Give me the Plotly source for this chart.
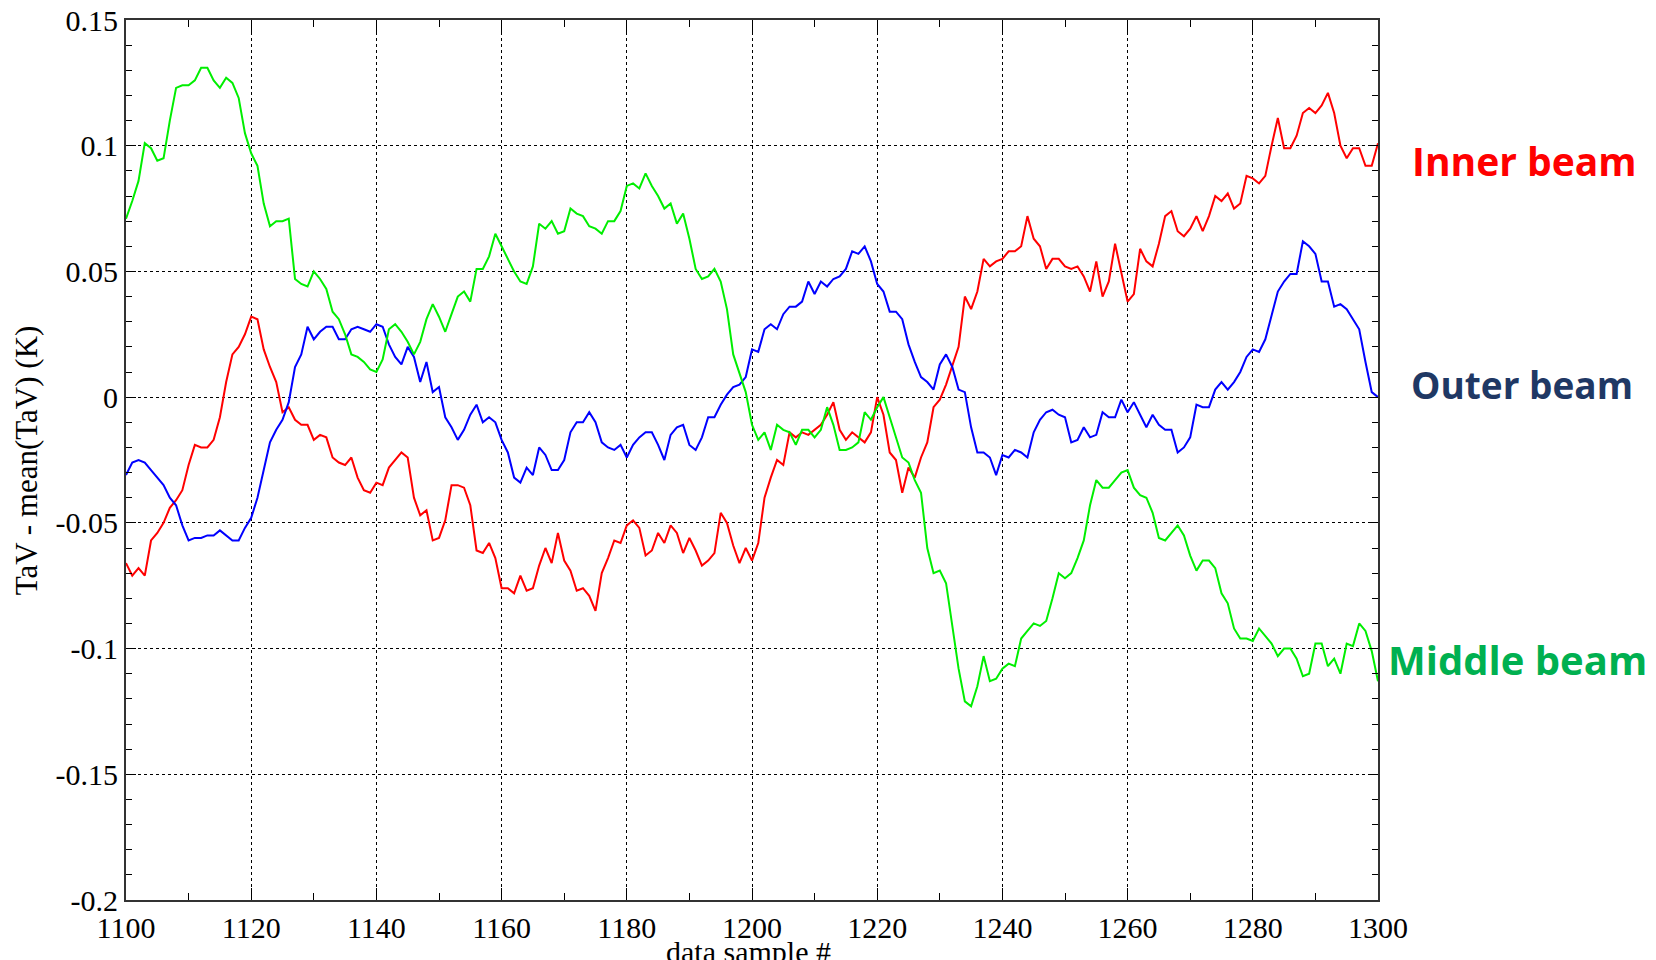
import plotly.graph_objects as go

sample_start = 1100
sample_end = 1300

inner_beam = [
    -0.066, -0.071, -0.068, -0.071, -0.057, -0.054, -0.050, -0.044, -0.041, -0.037,
    -0.027, -0.019, -0.020, -0.020, -0.017, -0.008, 0.006, 0.017, 0.020, 0.025,
    0.032, 0.031, 0.019, 0.012, 0.006, -0.006, -0.004, -0.009, -0.011, -0.011,
    -0.017, -0.015, -0.016, -0.024, -0.026, -0.027, -0.024, -0.032, -0.037, -0.038,
    -0.034, -0.035, -0.028, -0.025, -0.022, -0.024, -0.040, -0.047, -0.045, -0.057,
    -0.056, -0.049, -0.035, -0.035, -0.036, -0.043, -0.061, -0.062, -0.058, -0.064,
    -0.076, -0.076, -0.078, -0.071, -0.077, -0.076, -0.067, -0.060, -0.066, -0.054,
    -0.065, -0.069, -0.077, -0.076, -0.079, -0.085, -0.070, -0.064, -0.057, -0.058,
    -0.051, -0.049, -0.052, -0.063, -0.061, -0.054, -0.058, -0.051, -0.054, -0.062,
    -0.056, -0.061, -0.067, -0.065, -0.062, -0.046, -0.050, -0.059, -0.066, -0.060,
    -0.065, -0.058, -0.040, -0.032, -0.025, -0.027, -0.014, -0.016, -0.014, -0.015,
    -0.013, -0.011, -0.007, -0.002, -0.013, -0.017, -0.014, -0.016, -0.018, -0.014,
    0.000, -0.007, -0.022, -0.025, -0.038, -0.028, -0.032, -0.024, -0.018, -0.004,
    -0.001, 0.005, 0.013, 0.020, 0.040, 0.035, 0.042, 0.055, 0.052, 0.054,
    0.055, 0.058, 0.058, 0.060, 0.072, 0.063, 0.060, 0.051, 0.055, 0.055,
    0.052, 0.051, 0.052, 0.048, 0.042, 0.054, 0.040, 0.046, 0.061, 0.049,
    0.038, 0.041, 0.059, 0.054, 0.052, 0.061, 0.072, 0.074, 0.066, 0.064,
    0.067, 0.072, 0.066, 0.072, 0.080, 0.078, 0.081, 0.075, 0.077, 0.088,
    0.087, 0.085, 0.088, 0.100, 0.111, 0.099, 0.099, 0.104, 0.113, 0.115,
    0.113, 0.116, 0.121, 0.113, 0.100, 0.095, 0.099, 0.099, 0.092, 0.092,
    0.101,
]

outer_beam = [
    -0.031, -0.026, -0.025, -0.026, -0.029, -0.032, -0.035, -0.040, -0.043, -0.051,
    -0.057, -0.056, -0.056, -0.055, -0.055, -0.053, -0.055, -0.057, -0.057, -0.052,
    -0.048, -0.040, -0.029, -0.018, -0.013, -0.009, -0.002, 0.012, 0.017, 0.028,
    0.023, 0.026, 0.028, 0.028, 0.023, 0.023, 0.027, 0.028, 0.027, 0.026,
    0.029, 0.028, 0.021, 0.016, 0.013, 0.020, 0.016, 0.006, 0.014, 0.002,
    0.004, -0.008, -0.012, -0.017, -0.013, -0.007, -0.003, -0.010, -0.008, -0.010,
    -0.017, -0.022, -0.032, -0.034, -0.028, -0.031, -0.020, -0.023, -0.029, -0.029,
    -0.025, -0.014, -0.010, -0.010, -0.006, -0.010, -0.018, -0.020, -0.021, -0.019,
    -0.024, -0.019, -0.016, -0.014, -0.014, -0.019, -0.025, -0.015, -0.012, -0.011,
    -0.019, -0.021, -0.016, -0.008, -0.008, -0.003, 0.001, 0.004, 0.005, 0.008,
    0.019, 0.018, 0.027, 0.029, 0.027, 0.033, 0.036, 0.036, 0.038, 0.046,
    0.041, 0.046, 0.044, 0.047, 0.048, 0.051, 0.058, 0.057, 0.060, 0.054,
    0.045, 0.042, 0.034, 0.034, 0.031, 0.021, 0.014, 0.008, 0.006, 0.003,
    0.013, 0.017, 0.012, 0.003, 0.002, -0.012, -0.022, -0.022, -0.024, -0.031,
    -0.023, -0.024, -0.021, -0.022, -0.024, -0.014, -0.009, -0.006, -0.005, -0.007,
    -0.008, -0.018, -0.017, -0.012, -0.016, -0.015, -0.006, -0.008, -0.008, -0.001,
    -0.006, -0.002, -0.007, -0.012, -0.007, -0.011, -0.013, -0.013, -0.022, -0.020,
    -0.016, -0.003, -0.004, -0.004, 0.003, 0.006, 0.003, 0.006, 0.010, 0.016,
    0.019, 0.018, 0.023, 0.033, 0.042, 0.046, 0.049, 0.049, 0.062, 0.060,
    0.057, 0.046, 0.046, 0.036, 0.037, 0.035, 0.031, 0.027, 0.014, 0.002,
    0.000,
]

middle_beam = [
    0.071, 0.078, 0.086, 0.101, 0.099, 0.094, 0.095, 0.110, 0.123, 0.124,
    0.124, 0.126, 0.131, 0.131, 0.126, 0.123, 0.127, 0.125, 0.119, 0.105,
    0.097, 0.092, 0.077, 0.068, 0.070, 0.070, 0.071, 0.047, 0.045, 0.044,
    0.050, 0.047, 0.043, 0.034, 0.031, 0.025, 0.017, 0.016, 0.014, 0.011,
    0.010, 0.015, 0.027, 0.029, 0.026, 0.022, 0.017, 0.022, 0.031, 0.037,
    0.032, 0.026, 0.033, 0.040, 0.042, 0.038, 0.051, 0.051, 0.056, 0.065,
    0.060, 0.055, 0.050, 0.046, 0.045, 0.052, 0.069, 0.067, 0.070, 0.065,
    0.066, 0.075, 0.073, 0.072, 0.068, 0.067, 0.065, 0.070, 0.070, 0.074,
    0.084, 0.085, 0.083, 0.089, 0.084, 0.080, 0.075, 0.077, 0.069, 0.073,
    0.063, 0.051, 0.047, 0.048, 0.051, 0.046, 0.035, 0.017, 0.009, 0.002,
    -0.011, -0.017, -0.014, -0.021, -0.011, -0.013, -0.014, -0.019, -0.013, -0.013,
    -0.016, -0.013, -0.004, -0.011, -0.021, -0.021, -0.020, -0.018, -0.006, -0.009,
    -0.004, 0.000, -0.008, -0.016, -0.024, -0.026, -0.033, -0.038, -0.060, -0.070,
    -0.069, -0.074, -0.092, -0.108, -0.121, -0.123, -0.115, -0.103, -0.113, -0.112,
    -0.108, -0.106, -0.107, -0.096, -0.093, -0.090, -0.091, -0.089, -0.080, -0.070,
    -0.072, -0.070, -0.064, -0.057, -0.043, -0.033, -0.036, -0.036, -0.033, -0.030,
    -0.029, -0.036, -0.039, -0.040, -0.046, -0.056, -0.057, -0.054, -0.051, -0.055,
    -0.063, -0.069, -0.065, -0.065, -0.068, -0.078, -0.082, -0.092, -0.096, -0.096,
    -0.097, -0.092, -0.095, -0.098, -0.103, -0.100, -0.100, -0.104, -0.111, -0.110,
    -0.098, -0.098, -0.107, -0.104, -0.110, -0.098, -0.099, -0.090, -0.093, -0.101,
    -0.113,
]

samples = list(range(sample_start, sample_end + 1))

x_tick_vals = list(range(1100, 1301, 20))
x_tick_text = [str(v) for v in x_tick_vals]
y_tick_vals = [0.15, 0.1, 0.05, 0, -0.05, -0.1, -0.15, -0.2]
y_tick_text = ["0.15", "0.1", "0.05", "0", "-0.05", "-0.1", "-0.15", "-0.2"]

series = [
    ("Inner beam", inner_beam, "#FF0000"),
    ("Outer beam", outer_beam, "#0000FF"),
    ("Middle beam", middle_beam, "#00EE00"),
]

fig = go.Figure()
for name, vals, color in series:
    fig.add_trace(go.Scatter(x=samples, y=vals, mode="lines", name=name,
                             line=dict(color=color, width=2)))

serif = "Liberation Serif, Times New Roman, serif"
axis_font = dict(family=serif, size=30, color="black")

fig.update_layout(
    width=1656, height=960,
    margin=dict(l=118, r=286, t=12, b=68),
    paper_bgcolor="white", plot_bgcolor="white",
    showlegend=False,
    xaxis=dict(
        range=[1100, 1300], tickmode="array", tickvals=x_tick_vals, ticktext=x_tick_text,
        showgrid=True, gridcolor="black", griddash="dot", gridwidth=1,
        showline=True, linecolor="#333333", linewidth=2, mirror="ticks",
        ticks="inside", ticklen=12, tickcolor="black",
        minor=dict(dtick=10, tick0=1100, ticks="inside", ticklen=7, tickcolor="black", showgrid=False),
        tickfont=axis_font, zeroline=False, automargin=False, ticklabeloverflow="allow",
    ),
    yaxis=dict(
        range=[-0.2, 0.15], tickmode="array", tickvals=y_tick_vals, ticktext=y_tick_text,
        showgrid=True, gridcolor="black", griddash="dot", gridwidth=1,
        showline=True, linecolor="#333333", linewidth=2, mirror="ticks",
        ticks="inside", ticklen=10, tickcolor="black",
        minor=dict(dtick=0.01, tick0=0, ticks="inside", ticklen=6, tickcolor="black", showgrid=False),
        tickfont=axis_font, zeroline=False, automargin=False, ticklabeloverflow="allow",
    ),
)

fig.add_annotation(text="TaV - mean(TaV) (K)", xref="paper", yref="paper",
                   x=-0.0799, y=0.4996, textangle=-90, showarrow=False,
                   xanchor="center", yanchor="middle",
                   font=dict(family=serif, size=31, color="black"))
fig.add_annotation(text="data sample #", xref="paper", yref="paper",
                   x=0.497, y=-0.038, showarrow=False, xanchor="center", yanchor="top",
                   font=dict(family=serif, size=30, color="black"))

label_font = "Open Sans, Noto Sans, sans-serif"
fig.add_annotation(text="<b>Inner beam</b>", xref="paper", yref="y", x=1.0256, y=0.0942,
                   showarrow=False, xanchor="left", yanchor="middle",
                   font=dict(family=label_font, size=39, color="#FF0000"))
fig.add_annotation(text="<b>Outer beam</b>", xref="paper", yref="y", x=1.025, y=0.0049,
                   showarrow=False, xanchor="left", yanchor="middle",
                   font=dict(family=label_font, size=37, color="#1F3864"))
fig.add_annotation(text="<b>Middle beam</b>", xref="paper", yref="y", x=1.0066, y=-0.1044,
                   showarrow=False, xanchor="left", yanchor="middle",
                   font=dict(family=label_font, size=40, color="#00B050"))

fig.write_html("out.html")
